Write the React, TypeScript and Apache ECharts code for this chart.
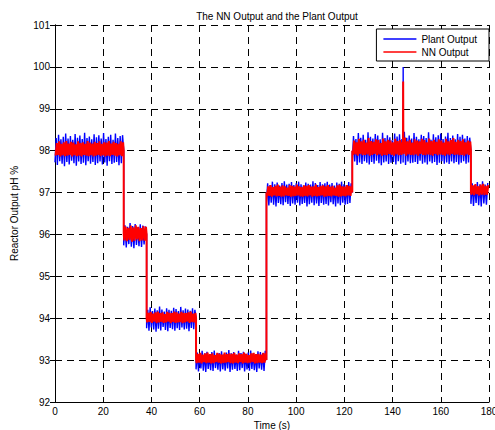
import React, { useEffect, useRef } from "react";
import * as echarts from "echarts";

// Time axis ticks and value axis ticks
const xTicks = [0, 20, 40, 60, 80, 100, 120, 140, 160, 180];
const yTicks = [92, 93, 94, 95, 96, 97, 98, 99, 100, 101];

// Step segments of the set level (seconds)
const segStarts = [0, 28.5, 38, 58.5, 87.7, 123.3, 172.5];
const segEnds = [28.5, 38, 58.5, 87.7, 123.3, 172.5, 180];
const segLevels = [98, 96, 94, 93, 97, 98, 97];

// Plant output noise envelope, hundredths above / below the level, per segment
const plantHi = [
  [30, 38, 27, 33, 41, 29, 35, 26, 40, 31, 36, 28, 43, 30, 34, 27, 39, 32, 37, 29, 42, 28, 33, 38, 26, 41, 30, 35, 37],
  [22, 18, 27, 20, 25, 17, 24, 21, 19],
  [20, 26, 17, 23, 19, 28, 21, 16, 24, 20, 18, 25, 22, 17, 27, 19, 23, 21, 18, 24, 20],
  [18, 14, 22, 16, 20, 13, 19, 23, 15, 17, 21, 14, 18, 24, 16, 19, 13, 22, 17, 20, 15, 18, 23, 16, 14, 21, 19, 17, 22],
  [22, 18, 26, 20, 24, 17, 23, 27, 19, 21, 25, 18, 22, 26, 20, 17, 24, 21, 19, 27, 23, 18, 25, 20, 22, 26, 19, 23, 17, 24, 21, 26, 20, 18, 25, 22],
  [35, 28, 42, 31, 38, 26, 44, 33, 29, 40, 36, 27, 43, 30, 37, 32, 25, 41, 34, 39, 28, 45, 31, 36, 29, 42, 33, 27, 38, 35, 30, 44, 26, 39, 32, 37, 41, 28, 34, 43, 30, 36, 27, 40, 33, 38, 29, 35, 31],
  [22, 18, 25, 20, 27, 19, 23],
];
const plantLo = [
  [28, 34, 25, 31, 37, 27, 33, 24, 30, 36, 26, 32, 29, 35, 25, 31, 27, 34, 30, 26, 33, 28, 36, 25, 32, 29, 27, 35, 30],
  [26, 31, 23, 29, 33, 25, 28, 30, 24],
  [24, 30, 22, 27, 32, 25, 29, 21, 28, 31, 23, 26, 30, 24, 28, 22, 27, 25, 31, 23, 26],
  [22, 27, 20, 25, 28, 21, 24, 26, 19, 23, 27, 22, 25, 20, 28, 23, 21, 26, 24, 19, 27, 22, 25, 21, 24, 28, 20, 23, 26],
  [26, 31, 24, 29, 33, 25, 28, 30, 23, 27, 32, 26, 29, 24, 31, 27, 25, 33, 28, 24, 30, 26, 32, 25, 29, 27, 31, 23, 28, 33, 26, 30, 24, 29, 27, 25],
  [30, 26, 34, 28, 32, 25, 29, 33, 27, 31, 24, 30, 35, 28, 26, 32, 29, 27, 33, 25, 31, 28, 34, 26, 30, 29, 27, 32, 24, 31, 28, 33, 26, 30, 27, 34, 29, 25, 31, 28, 32, 26, 30, 27, 33, 29, 25, 31, 28],
  [27, 32, 25, 30, 33, 26, 29],
];

// NN output noise envelope, hundredths above / below the level, per segment
const nnHi = [
  [18, 22, 16, 20, 23, 17, 21, 19, 15, 22, 18, 20, 16, 23, 19, 17, 21, 18, 22, 16, 20, 19, 23, 17, 21, 18, 16, 22, 20],
  [19, 16, 21, 17, 22, 18, 15, 20, 18],
  [13, 15, 11, 14, 16, 12, 14, 10, 15, 13, 12, 16, 14, 11, 15, 13, 12, 14, 16, 11, 13],
  [15, 17, 13, 16, 18, 14, 16, 12, 17, 15, 13, 18, 14, 16, 15, 17, 13, 16, 14, 18, 15, 12, 16, 17, 14, 15, 13, 17, 16],
  [15, 18, 13, 16, 19, 14, 17, 15, 12, 18, 16, 14, 19, 15, 13, 17, 16, 18, 14, 15, 19, 13, 16, 17, 15, 18, 14, 16, 12, 17, 19, 15, 14, 18, 16, 15],
  [24, 20, 28, 22, 26, 19, 30, 23, 21, 27, 25, 18, 29, 22, 26, 24, 20, 28, 23, 25, 21, 31, 22, 26, 19, 27, 24, 22, 28, 25, 20, 29, 23, 26, 21, 27, 24, 19, 28, 22, 25, 30, 21, 26, 23, 27, 20, 24, 22],
  [17, 20, 15, 19, 21, 16, 18],
];
const nnLo = [
  [12, 10, 14, 11, 13, 12, 10, 14, 11, 13, 12, 14, 10, 12, 13, 11, 14, 12, 10, 13, 11, 14, 12, 13, 10, 12, 14, 11, 13],
  [14, 16, 13, 17, 15, 12, 16, 14, 15],
  [10, 9, 11, 8, 12, 10, 9, 11, 10, 8, 12, 9, 11, 10, 9, 12, 10, 8, 11, 9, 10],
  [7, 6, 8, 5, 7, 6, 8, 7, 5, 6, 8, 7, 6, 5, 7, 8, 6, 7, 5, 8, 6, 7, 6, 5, 8, 7, 6, 7, 6],
  [9, 8, 10, 7, 9, 8, 10, 9, 7, 8, 10, 9, 8, 7, 9, 10, 8, 9, 7, 10, 8, 9, 8, 7, 10, 9, 8, 9, 7, 8, 10, 9, 8, 9, 7, 8],
  [10, 9, 12, 8, 11, 10, 9, 12, 10, 8, 11, 9, 12, 10, 11, 8, 10, 12, 9, 11, 10, 8, 12, 9, 10, 11, 9, 12, 8, 10, 11, 9, 10, 12, 8, 11, 9, 10, 12, 9, 11, 8, 10, 9, 11, 10, 12, 9, 10],
  [5, 6, 4, 7, 5, 6, 5],
];

// Spike near t = 144 s
const spikeTime = 144.4;
const spikeSegment = 5;
const plantSpike = 100.0;
const nnSpike = 99.65;

function buildSeries(hi: number[][], lo: number[][], phase: number, spike: number): number[][] {
  const pts: number[][] = [];
  for (let k = 0; k < segStarts.length; k++) {
    const s = segStarts[k];
    const e = segEnds[k];
    const n = hi[k].length;
    const step = (e - s) / n;
    const lev = segLevels[k];
    if (k > 0) pts.push([s, lev]);
    for (let i = 0; i < n; i++) {
      const t = s + i * step;
      pts.push([t + phase * step, lev - (lo[k][i] ?? 0) / 100]);
      pts.push([t + (phase + 0.5) * step, lev + (hi[k][i] ?? 0) / 100]);
    }
    if (k < segStarts.length - 1) pts.push([e, lev]);
  }
  const base = segLevels[spikeSegment];
  pts.push([spikeTime - 0.08, base]);
  pts.push([spikeTime, spike]);
  pts.push([spikeTime + 0.08, base]);
  pts.sort((a, b) => a[0] - b[0]);
  return pts;
}

const FONT = "Liberation Sans, Arial, sans-serif";

export default function App() {
  const ref = useRef<HTMLDivElement>(null);
  useEffect(() => {
    document.body.style.margin = "0";
    if (!ref.current) return;
    const chart = echarts.init(ref.current, undefined, { renderer: "svg" });
    const tickStyle = { show: true, inside: true, length: 5, lineStyle: { color: "#000", width: 1 } };
    chart.setOption({
      animation: false,
      backgroundColor: "#fff",
      textStyle: { fontFamily: FONT },
      title: {
        text: "The NN Output and the Plant Output",
        left: 272,
        textAlign: "center",
        top: 6,
        textStyle: { fontSize: 10, fontWeight: "normal", color: "#000", fontFamily: FONT },
      },
      grid: { left: 55, right: 6, top: 25, bottom: 28, containLabel: false, outerBoundsMode: "none" },
      legend: {
        orient: "vertical",
        right: 6,
        top: 29,
        backgroundColor: "#fff",
        borderColor: "#000",
        borderWidth: 1,
        padding: [5, 12, 4, 7],
        itemGap: 3,
        itemWidth: 33,
        itemHeight: 1.5,
        icon: "rect",
        textStyle: { fontSize: 10, color: "#000", fontFamily: FONT, padding: [0, 0, 0, 0] },
        data: ["Plant Output", "NN Output"],
      },
      xAxis: [
        {
          type: "value",
          min: xTicks[0],
          max: xTicks[xTicks.length - 1],
          interval: 20,
          position: "bottom",
          name: "Time (s)",
          nameLocation: "middle",
          nameGap: 15,
          nameTextStyle: { fontSize: 10, color: "#000", fontFamily: FONT },
          axisLine: { show: true, lineStyle: { color: "#000", width: 1 } },
          axisTick: tickStyle,
          axisLabel: { fontSize: 10, color: "#000", margin: 4, fontFamily: FONT },
          splitLine: { show: true, lineStyle: { color: "#000", width: 1, type: [7, 5] } },
        },
        {
          type: "value",
          min: xTicks[0],
          max: xTicks[xTicks.length - 1],
          interval: 20,
          position: "top",
          axisLine: { show: false },
          axisTick: tickStyle,
          axisLabel: { show: false },
          splitLine: { show: false },
        },
      ],
      yAxis: [
        {
          type: "value",
          min: yTicks[0],
          max: yTicks[yTicks.length - 1],
          interval: 1,
          position: "left",
          name: "Reactor Output pH %",
          nameLocation: "middle",
          nameGap: 36,
          nameRotate: 90,
          nameTextStyle: { fontSize: 10, color: "#000", fontFamily: FONT },
          axisLine: { show: true, lineStyle: { color: "#000", width: 1 } },
          axisTick: tickStyle,
          axisLabel: { fontSize: 10, color: "#000", margin: 5, fontFamily: FONT },
          splitLine: { show: true, lineStyle: { color: "#000", width: 1, type: [7, 5] } },
        },
        {
          type: "value",
          min: yTicks[0],
          max: yTicks[yTicks.length - 1],
          interval: 1,
          position: "right",
          axisLine: { show: true, lineStyle: { color: "#000", width: 1 } },
          axisTick: tickStyle,
          axisLabel: { show: false },
          splitLine: { show: false },
        },
      ],
      series: [
        {
          name: "Plant Output",
          type: "line",
          xAxisIndex: 0,
          yAxisIndex: 0,
          data: buildSeries(plantHi, plantLo, 0, plantSpike),
          showSymbol: false,
          symbol: "none",
          silent: true,
          lineStyle: { color: "#0000ff", width: 1.4 },
          itemStyle: { color: "#0000ff" },
          z: 2,
        },
        {
          name: "NN Output",
          type: "line",
          xAxisIndex: 0,
          yAxisIndex: 0,
          data: buildSeries(nnHi, nnLo, 0.25, nnSpike),
          showSymbol: false,
          symbol: "none",
          silent: true,
          lineStyle: { color: "#ff0000", width: 2 },
          itemStyle: { color: "#ff0000" },
          z: 3,
        },
      ],
    });
    return () => chart.dispose();
  }, []);
  return <div ref={ref} style={{ position: "absolute", left: 0, top: 0, width: 495, height: 430 }} />;
}
